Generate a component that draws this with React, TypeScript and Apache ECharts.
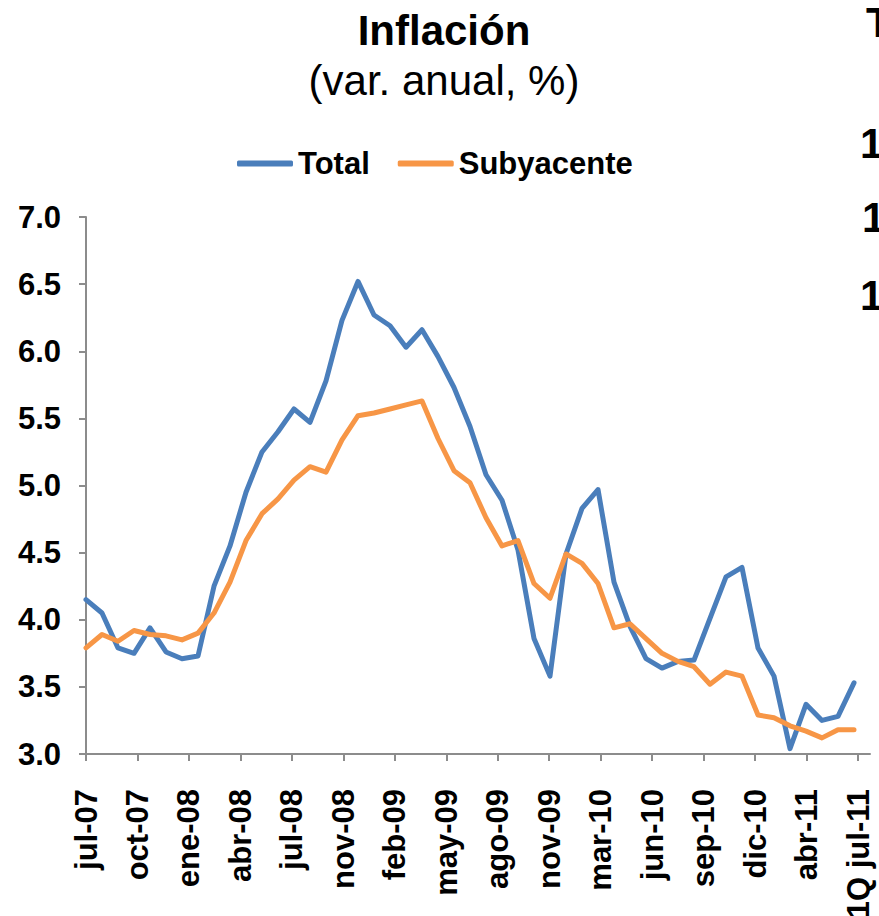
import React, { useEffect, useRef } from "react";
import * as echarts from "echarts";

const months: string[] = [
  "jul-07", "ago-07", "sep-07", "oct-07", "nov-07", "dic-07",
  "ene-08", "feb-08", "mar-08", "abr-08", "may-08", "jun-08",
  "jul-08", "ago-08", "sep-08", "oct-08", "nov-08", "dic-08",
  "ene-09", "feb-09", "mar-09", "abr-09", "may-09", "jun-09",
  "jul-09", "ago-09", "sep-09", "oct-09", "nov-09", "dic-09",
  "ene-10", "feb-10", "mar-10", "abr-10", "may-10", "jun-10",
  "jul-10", "ago-10", "sep-10", "oct-10", "nov-10", "dic-10",
  "ene-11", "feb-11", "mar-11", "abr-11", "may-11", "jun-11",
  "1Q jul-11",
];

const total: number[] = [
  4.15, 4.05, 3.79, 3.75, 3.94, 3.76, 3.71, 3.73, 4.25, 4.55,
  4.95, 5.25, 5.40, 5.57, 5.47, 5.78, 6.23, 6.52, 6.27, 6.19,
  6.03, 6.16, 5.96, 5.73, 5.44, 5.08, 4.89, 4.52, 3.86, 3.58,
  4.49, 4.83, 4.97, 4.28, 3.95, 3.71, 3.64, 3.69, 3.70, 4.01,
  4.32, 4.39, 3.79, 3.58, 3.04, 3.37, 3.25, 3.28, 3.53,
];

const subyacente: number[] = [
  3.79, 3.89, 3.84, 3.92, 3.89, 3.88, 3.85, 3.90, 4.05, 4.28,
  4.59, 4.79, 4.90, 5.04, 5.14, 5.10, 5.34, 5.52, 5.54, 5.57,
  5.60, 5.63, 5.35, 5.11, 5.02, 4.76, 4.55, 4.59, 4.27, 4.16,
  4.49, 4.42, 4.27, 3.94, 3.97, 3.86, 3.75, 3.69, 3.65, 3.52,
  3.61, 3.58, 3.29, 3.27, 3.21, 3.17, 3.12, 3.18, 3.18,
];

const tickLabels: string[] = [
  "jul-07", "oct-07", "ene-08", "abr-08", "jul-08", "nov-08", "feb-09", "may-09",
  "ago-09", "nov-09", "mar-10", "jun-10", "sep-10", "dic-10", "abr-11", "1Q jul-11",
];

const FONT = "'Liberation Sans', Arial, sans-serif";
const AXIS_COLOR = "#8c8c8c";
const TICK_STEP = 48.25 / 15;

export default function App() {
  const ref = useRef<HTMLDivElement>(null);

  useEffect(() => {
    if (!ref.current) return;
    const chart = echarts.init(ref.current, null, { renderer: "svg" });
    const tickValues = tickLabels.map((_, k) => k * TICK_STEP);

    const fragment = (text: string, x: number, y: number) => ({
      type: "text",
      style: { text, x, y, textVerticalAlign: "middle", font: `bold 42px ${FONT}`, fill: "#000" },
    });

    chart.setOption({
      animation: false,
      backgroundColor: "#ffffff",
      textStyle: { fontFamily: FONT },
      graphic: [
        {
          type: "text",
          style: {
            text: "Inflación",
            x: 444,
            y: 30,
            textAlign: "center",
            textVerticalAlign: "middle",
            font: `bold 42px ${FONT}`,
            fill: "#000",
          },
        },
        {
          type: "text",
          style: {
            text: "(var. anual, %)",
            x: 444,
            y: 80,
            textAlign: "center",
            textVerticalAlign: "middle",
            font: `42px ${FONT}`,
            fill: "#000",
          },
        },
        fragment("T", 866, 22),
        fragment("1", 860, 143),
        fragment("1", 862, 217),
        fragment("1", 860, 295),
      ],
      legend: {
        data: ["Total", "Subyacente"],
        left: 232,
        top: 143,
        icon: "roundRect",
        itemWidth: 56,
        itemHeight: 6,
        itemGap: 28,
        textStyle: { fontSize: 31, fontWeight: "bold", color: "#000", fontFamily: FONT },
      },
      grid: {
        left: 86,
        right: 9,
        top: 217,
        bottom: 162,
        containLabel: false,
        outerBoundsMode: "none",
      },
      xAxis: {
        type: "value",
        min: 0,
        max: 49,
        splitLine: { show: false },
        axisLine: { show: true, onZero: false, lineStyle: { color: AXIS_COLOR, width: 2 } },
        axisTick: {
          show: true,
          length: 7,
          customValues: tickValues,
          lineStyle: { color: AXIS_COLOR, width: 2 },
        },
        axisLabel: {
          customValues: tickValues,
          rotate: 90,
          margin: 35,
          fontSize: 31,
          fontWeight: "bold",
          color: "#000",
          fontFamily: FONT,
          formatter: (v: number) => tickLabels[Math.round(v / TICK_STEP)] ?? "",
        },
      },
      yAxis: {
        type: "value",
        min: 3,
        max: 7,
        interval: 0.5,
        splitLine: { show: false },
        axisLine: { show: true, lineStyle: { color: AXIS_COLOR, width: 2 } },
        axisTick: { show: true, length: 7, lineStyle: { color: AXIS_COLOR, width: 2 } },
        axisLabel: {
          margin: 25,
          fontSize: 31,
          fontWeight: "bold",
          color: "#000",
          fontFamily: FONT,
          formatter: (v: number) => v.toFixed(1),
        },
      },
      series: [
        {
          name: "Total",
          type: "line",
          data: months.map((_, i) => [i, total[i]]),
          showSymbol: false,
          symbol: "none",
          color: "#4A7EBB",
          lineStyle: { color: "#4A7EBB", width: 5, join: "round", cap: "round" },
        },
        {
          name: "Subyacente",
          type: "line",
          data: months.map((_, i) => [i, subyacente[i]]),
          showSymbol: false,
          symbol: "none",
          color: "#F79646",
          lineStyle: { color: "#F79646", width: 5, join: "round", cap: "round" },
        },
      ],
    });

    return () => chart.dispose();
  }, []);

  return (
    <div
      ref={ref}
      style={{ position: "absolute", left: 0, top: 0, width: 879, height: 916 }}
    />
  );
}
